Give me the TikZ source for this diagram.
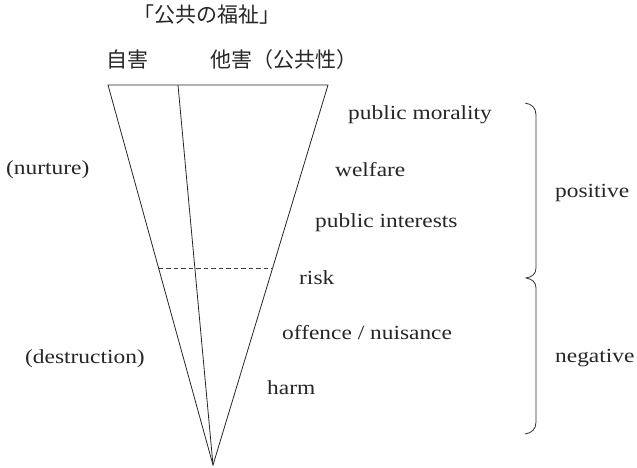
\documentclass[tikz,border=0pt]{standalone}
\usepackage{fontspec}
\setmainfont[FakeStretch=1.17]{Liberation Serif}
\newfontfamily\jp{Noto Sans CJK JP}
\usetikzlibrary{calc}
\tikzset{
  lab/.style={inner sep=0pt, anchor=west, text=black!85, font=\fontsize{20}{24}\selectfont},
  jlab/.style={inner sep=0pt, text=black!85, font=\jp\fontsize{21}{24}\selectfont},
  edgeline/.style={line width=0.8pt, black!85},
  dashline/.style={line width=0.8pt, black!75, dash pattern=on 4.5pt off 3pt},
  braceline/.style={line width=0.8pt, black!80}
}
\begin{document}
\begin{tikzpicture}[x=1pt,y=-1pt]
\useasboundingbox (0,0) rectangle (637,468);
% triangle
\coordinate (tl) at (108,85);
\coordinate (tm) at (178,85);
\coordinate (tr) at (328,85);
\coordinate (ap) at (213,465);
\draw[edgeline, line join=miter] (ap) -- (tl) -- (tr) -- cycle;
\draw[edgeline] (tm) -- (ap);
\coordinate (dl) at ($(tl)!0.4816!(ap)$);
\coordinate (dr) at ($(tr)!0.4816!(ap)$);
\draw[dashline] (dl) -- (dr);
% headings
\node[jlab] (kokyo) at (207,15) {「公共の福祉」};
\node[jlab] (jigai) at (127,60) {自害};
\node[jlab, anchor=west] (tagai) at (210,60) {他害（公共性）};
% right labels
\node[lab] (pm) at (348,115) {public morality};
\node[lab] (wf) at (335,170) {welfare};
\node[lab] (pi) at (315,223) {public interests};
\node[lab] (rk) at (299,278) {risk};
\node[lab] (of) at (282,333) {offence / nuisance};
\node[lab] (hm) at (267,388) {harm};
% left labels
\node[lab] (nu) at (6,170) {(nurture)};
\node[lab] (de) at (25,359) {(destruction)};
% brackets
\coordinate (b1) at (525,103);
\coordinate (b2) at (526,278);
\coordinate (b3) at (525,434);
\draw[braceline] (b1) .. controls (532,104) and (536,108) .. (536,115) -- (536,268)
  .. controls (536,274) and (532,277) .. (b2)
  .. controls (532,279) and (536,282) .. (536,288) -- (536,422)
  .. controls (536,429) and (532,433) .. (b3);
\node[lab] (pos) at (555,193) {positive};
\node[lab] (neg) at (555,358) {negative};
\end{tikzpicture}
\end{document}
